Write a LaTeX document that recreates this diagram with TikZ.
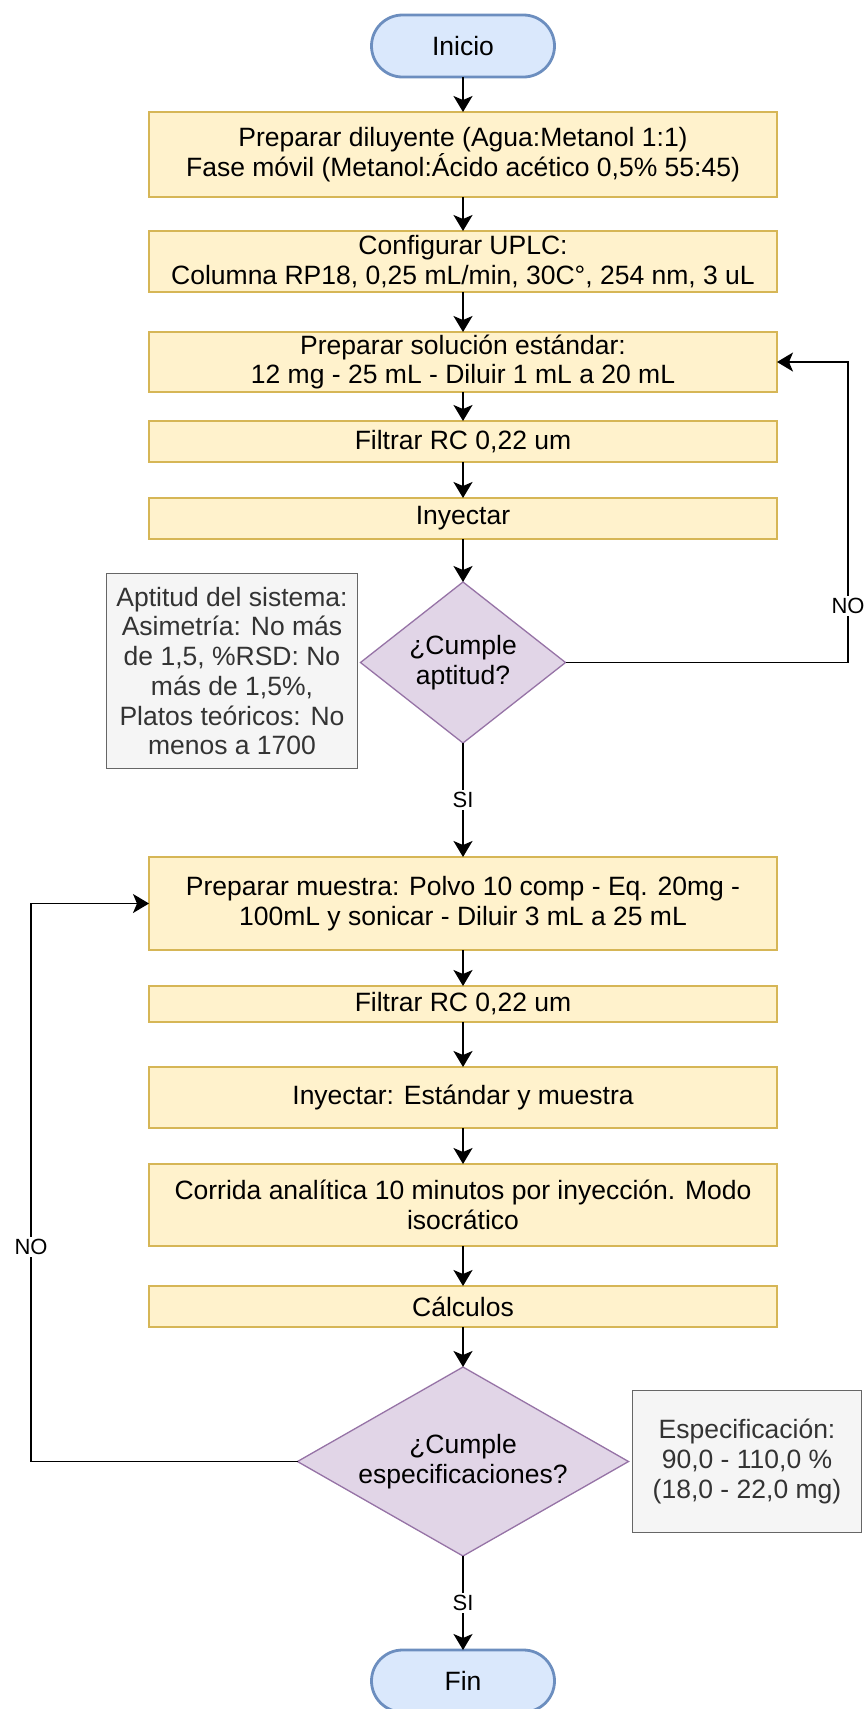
\documentclass[tikz,border=0pt]{standalone}
\usepackage{fontspec}
\setmainfont{Liberation Sans}
\usetikzlibrary{arrows.meta,positioning,shapes.geometric}

\definecolor{termfill}{HTML}{DAE8FC}
\definecolor{termline}{HTML}{6C8EBF}
\definecolor{procfill}{HTML}{FFF2CC}
\definecolor{procline}{HTML}{D6B656}
\definecolor{decfill}{HTML}{E1D5E7}
\definecolor{decline}{HTML}{9673A6}
\definecolor{notefill}{HTML}{F5F5F5}
\definecolor{noteline}{HTML}{666666}
\definecolor{notetext}{HTML}{333333}

\begin{document}
\begin{tikzpicture}[
  x=1pt, y=1pt,
  font=\fontsize{26.5}{29.7}\selectfont,
  every node/.style={outer sep=0pt},
  term/.style={draw=termline, fill=termfill, line width=2.8pt, rounded corners=31pt, minimum width=183pt, minimum height=62pt, inner sep=0pt},
  proc/.style={draw=procline, fill=procfill, line width=1.6pt, align=center, minimum width=628pt, inner xsep=4pt, inner ysep=0pt},
  decis/.style={diamond, draw=decline, fill=decfill, line width=1.3pt, align=center, inner sep=0pt},
  nota/.style={draw=noteline, fill=notefill, text=notetext, line width=1.6pt, align=center, inner sep=0pt},
  lbl/.style={fill=white, inner sep=2pt, font=\fontsize{22}{24}\selectfont},
  >={Stealth[length=16pt, width=19pt, inset=4pt]},
  line width=1.6pt
]
\path[use as bounding box, fill=white] (0,0) rectangle (866,-1709);

\node[term] (inicio) at (463,-46) {Inicio};
\node[proc, below=35pt of inicio, minimum height=85pt] (dil) {Preparar diluyente (Agua:Metanol 1:1)\\Fase móvil (Metanol:Ácido acético 0,5\% 55:45)};
\node[proc, below=34pt of dil, minimum height=61pt] (uplc) {Configurar UPLC:\\Columna RP18, 0,25 mL/min, 30C°, 254 nm, 3 uL};
\node[proc, below=40pt of uplc, minimum height=60pt] (std) {Preparar solución estándar:\\12 mg - 25 mL - Diluir 1 mL a 20 mL};
\node[proc, below=29pt of std, minimum height=41pt] (filt) {Filtrar RC 0,22 um};
\node[proc, below=36pt of filt, minimum height=41pt] (iny) {Inyectar};
\node[decis, below=43pt of iny, minimum width=205pt, minimum height=161pt, shape aspect=1.27] (apt) {¿Cumple\\aptitud?};
\node[nota, left=3pt of apt, yshift=-8.5pt, minimum width=251pt, minimum height=195pt] (notaapt) {Aptitud del sistema:\\Asimetría: No más\\de 1,5, \%RSD: No\\más de 1,5\%,\\Platos teóricos: No\\menos a 1700};

\node[proc, below=114pt of apt, minimum height=93pt] (mue) {Preparar muestra: Polvo 10 comp - Eq. 20mg -\\100mL y sonicar - Diluir 3 mL a 25 mL};
\node[proc, below=36pt of mue, minimum height=36pt] (filtm) {Filtrar RC 0,22 um};
\node[proc, below=45pt of filtm, minimum height=61pt] (inym) {Inyectar: Estándar y muestra};
\node[proc, below=36pt of inym, minimum height=82pt] (corr) {Corrida analítica 10 minutos por inyección. Modo\\isocrático};
\node[proc, below=40pt of corr, minimum height=41pt] (calc) {Cálculos};
\node[decis, below=40pt of calc, minimum width=331pt, minimum height=189pt, shape aspect=1.75] (esp) {¿Cumple\\especificaciones?};
\node[nota, right=4pt of esp, minimum width=229pt, minimum height=142pt] (notaesp) {Especificación:\\90,0 - 110,0 \%\\(18,0 - 22,0 mg)};
\node[term, below=94pt of esp] (fin) {Fin};

\draw[->] (inicio) -- (dil);
\draw[->] (dil) -- (uplc);
\draw[->] (uplc) -- (std);
\draw[->] (std) -- (filt);
\draw[->] (filt) -- (iny);
\draw[->] (iny) -- (apt);
\draw[->] (apt) -- node[lbl] {SI} (mue);
\draw[->] (apt.east) -| node[lbl, pos=0.594] {NO} ([xshift=71pt]std.east) -- (std.east);

\draw[->] (mue) -- (filtm);
\draw[->] (filtm) -- (inym);
\draw[->] (inym) -- (corr);
\draw[->] (corr) -- (calc);
\draw[->] (calc) -- (esp);
\draw[->] (esp) -- node[lbl] {SI} (fin);
\draw[->] (esp.west) -| node[lbl, pos=0.692] {NO} ([xshift=-118pt]mue.west) -- (mue.west);
\end{tikzpicture}
\end{document}
